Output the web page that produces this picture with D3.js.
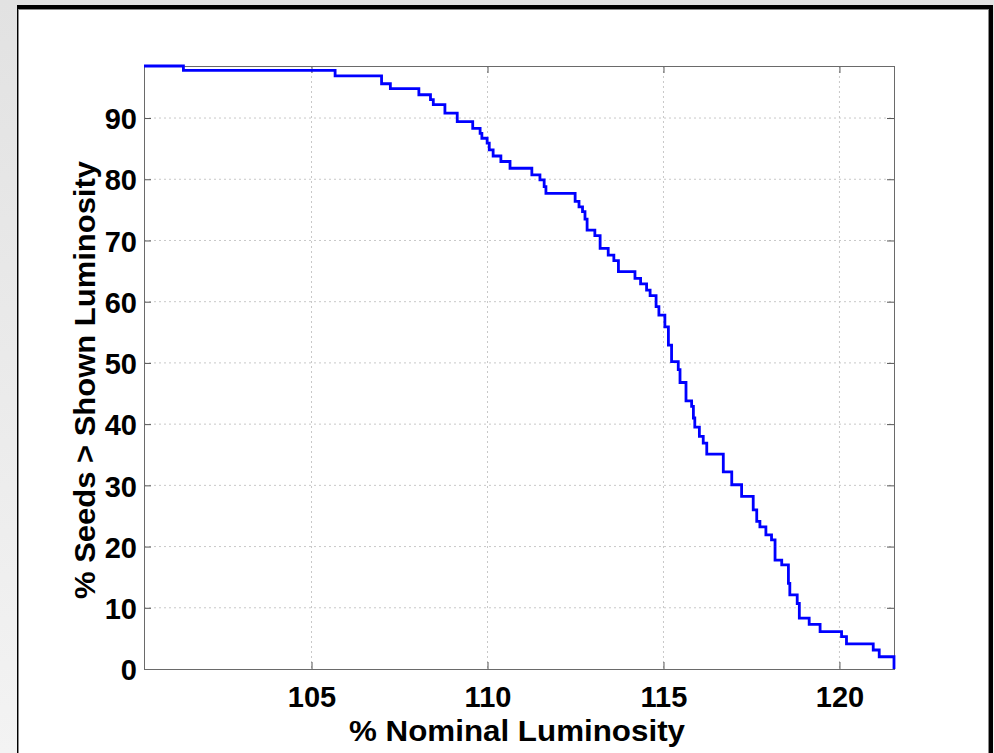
<!DOCTYPE html>
<html>
<head>
<meta charset="utf-8">
<script src="https://cdn.jsdelivr.net/npm/d3@7"></script>
<style>
  html, body { margin: 0; padding: 0; }
  body { width: 994px; height: 753px; overflow: hidden;
         background: linear-gradient(to bottom, #e2e2e2, #f3f3f3); }
  svg { display: block; }
</style>
</head>
<body>
<script>
// ---- data ----
const luminosity = [100.24, 101.36, 105.67, 106.99, 107.24, 108.05, 108.38, 108.46, 108.79, 109.14,
  109.58, 109.79, 109.84, 109.99, 110.05, 110.16, 110.38, 110.64, 111.26, 111.49,
  111.61, 111.66, 112.49, 112.60, 112.70, 112.77, 112.83, 113.05, 113.20, 113.43,
  113.59, 113.72, 114.19, 114.35, 114.52, 114.62, 114.79, 114.87, 115.04, 115.14,
  115.23, 115.42, 115.47, 115.64, 115.80, 115.85, 115.89, 116.02, 116.13, 116.23,
  116.70, 116.94, 117.22, 117.55, 117.65, 117.74, 117.91, 118.07, 118.17, 118.36,
  118.55, 118.59, 118.80, 118.86, 119.14, 119.45, 120.06, 120.20, 120.96, 121.13,
  121.48, 121.55];
const seedsPct = [98.5, 97.8, 96.9, 95.6, 94.8, 93.8, 93.0, 92.2, 90.8, 89.4,
  88.3, 87.5, 86.7, 85.9, 84.8, 83.8, 82.9, 81.8, 80.7, 79.9,
  78.8, 77.7, 76.4, 75.5, 74.7, 73.5, 71.7, 70.8, 68.7, 67.6,
  66.7, 64.9, 63.8, 62.9, 61.9, 61.0, 59.2, 57.8, 55.9, 52.9,
  50.2, 48.9, 46.8, 43.8, 42.9, 41.0, 39.5, 38.0, 36.9, 35.1,
  32.2, 30.1, 28.2, 26.0, 24.1, 23.2, 21.9, 21.1, 17.8, 17.0,
  14.0, 12.1, 10.7, 8.3, 7.3, 6.1, 5.3, 4.1, 3.1, 2.0,
  2.0, 0.0];
const xTicks = [105, 110, 115, 120];
const yTicks = [0, 10, 20, 30, 40, 50, 60, 70, 80, 90];
const xDomain = [100.24, 121.55];
const yDomain = [0, 98.5];
const xLabel = "% Nominal Luminosity";
const yLabel = "% Seeds > Shown Luminosity";

// ---- drawing ----
const W = 994, H = 753;
const plot = { left: 144, right: 894, top: 66, bottom: 669 };
const font = "'Liberation Sans', Arial, Helvetica, sans-serif";

const svg = d3.select("body").append("svg").attr("width", W).attr("height", H);

// figure panel
svg.append("rect").attr("x", 17).attr("y", 5).attr("width", 976).attr("height", H - 5).attr("fill", "#000");
svg.append("rect").attr("x", 18).attr("y", 9).attr("width", 971).attr("height", H - 9).attr("fill", "#8a8a8a");
svg.append("rect").attr("x", 19).attr("y", 10).attr("width", 969).attr("height", H - 10).attr("fill", "#fff");

const x = d3.scaleLinear().domain(xDomain).range([plot.left, plot.right]);
const y = d3.scaleLinear().domain(yDomain).range([plot.bottom, plot.top]);

const g = svg.append("g");

// grid
g.append("g").selectAll("line").data(xTicks).join("line")
  .attr("x1", d => x(d)).attr("x2", d => x(d))
  .attr("y1", plot.top).attr("y2", plot.bottom)
  .attr("stroke", "#c8c8c8").attr("stroke-width", 1).attr("stroke-dasharray", "2,3");
g.append("g").selectAll("line").data(yTicks.filter(d => d > 0)).join("line")
  .attr("x1", plot.left).attr("x2", plot.right)
  .attr("y1", d => y(d)).attr("y2", d => y(d))
  .attr("stroke", "#c8c8c8").attr("stroke-width", 1).attr("stroke-dasharray", "2,3");

// axes (MATLAB style: inward ticks on all four sides)
const tickLen = 7;
const axB = d3.axisBottom(x).tickValues(xTicks).tickSizeInner(-tickLen).tickSizeOuter(0);
const axT = d3.axisTop(x).tickValues(xTicks).tickSizeInner(-tickLen).tickSizeOuter(0).tickFormat("");
const axL = d3.axisLeft(y).tickValues(yTicks).tickSizeInner(-tickLen).tickSizeOuter(0);
const axR = d3.axisRight(y).tickValues(yTicks).tickSizeInner(-tickLen).tickSizeOuter(0).tickFormat("");

function style(sel) {
  sel.selectAll(".domain").remove();
  sel.selectAll(".tick line").attr("stroke", "#555").attr("stroke-width", 1);
  sel.selectAll("text").attr("font-family", font).attr("font-weight", "bold")
     .attr("font-size", 29).attr("fill", "#000");
}
const gB = g.append("g").attr("transform", `translate(0,${plot.bottom})`).call(axB).call(style);
gB.selectAll("text").attr("dy", null).attr("y", 38);
g.append("g").attr("transform", `translate(0,${plot.top})`).call(axT).call(style);
const gL = g.append("g").attr("transform", `translate(${plot.left},0)`).call(axL).call(style);
gL.selectAll("text").attr("dy", "0.37em").attr("x", -7);
g.append("g").attr("transform", `translate(${plot.right},0)`).call(axR).call(style);

// box
g.append("rect").attr("x", plot.left + 0.5).attr("y", plot.top + 0.5)
  .attr("width", plot.right - plot.left).attr("height", plot.bottom - plot.top)
  .attr("fill", "none").attr("stroke", "#6a6a6a").attr("stroke-width", 1);

// curve
const pts = luminosity.map((v, i) => [v, seedsPct[i]]);
const line = d3.line().x(d => x(d[0])).y(d => y(d[1])).curve(d3.curveStepAfter);
g.append("path").datum(pts).attr("d", line)
  .attr("fill", "none").attr("stroke", "#0000ff").attr("stroke-width", 2.8)
  .attr("stroke-linejoin", "miter");

// labels
svg.append("text").attr("x", 517).attr("y", 741).attr("text-anchor", "middle")
  .attr("font-family", font).attr("font-weight", "bold").attr("font-size", 29)
  .attr("textLength", 336).attr("lengthAdjust", "spacingAndGlyphs")
  .text(xLabel);
svg.append("text").attr("transform", "translate(95,380) rotate(-90)").attr("text-anchor", "middle")
  .attr("font-family", font).attr("font-weight", "bold").attr("font-size", 29)
  .attr("textLength", 438).attr("lengthAdjust", "spacingAndGlyphs")
  .text(yLabel);
</script>
</body>
</html>
